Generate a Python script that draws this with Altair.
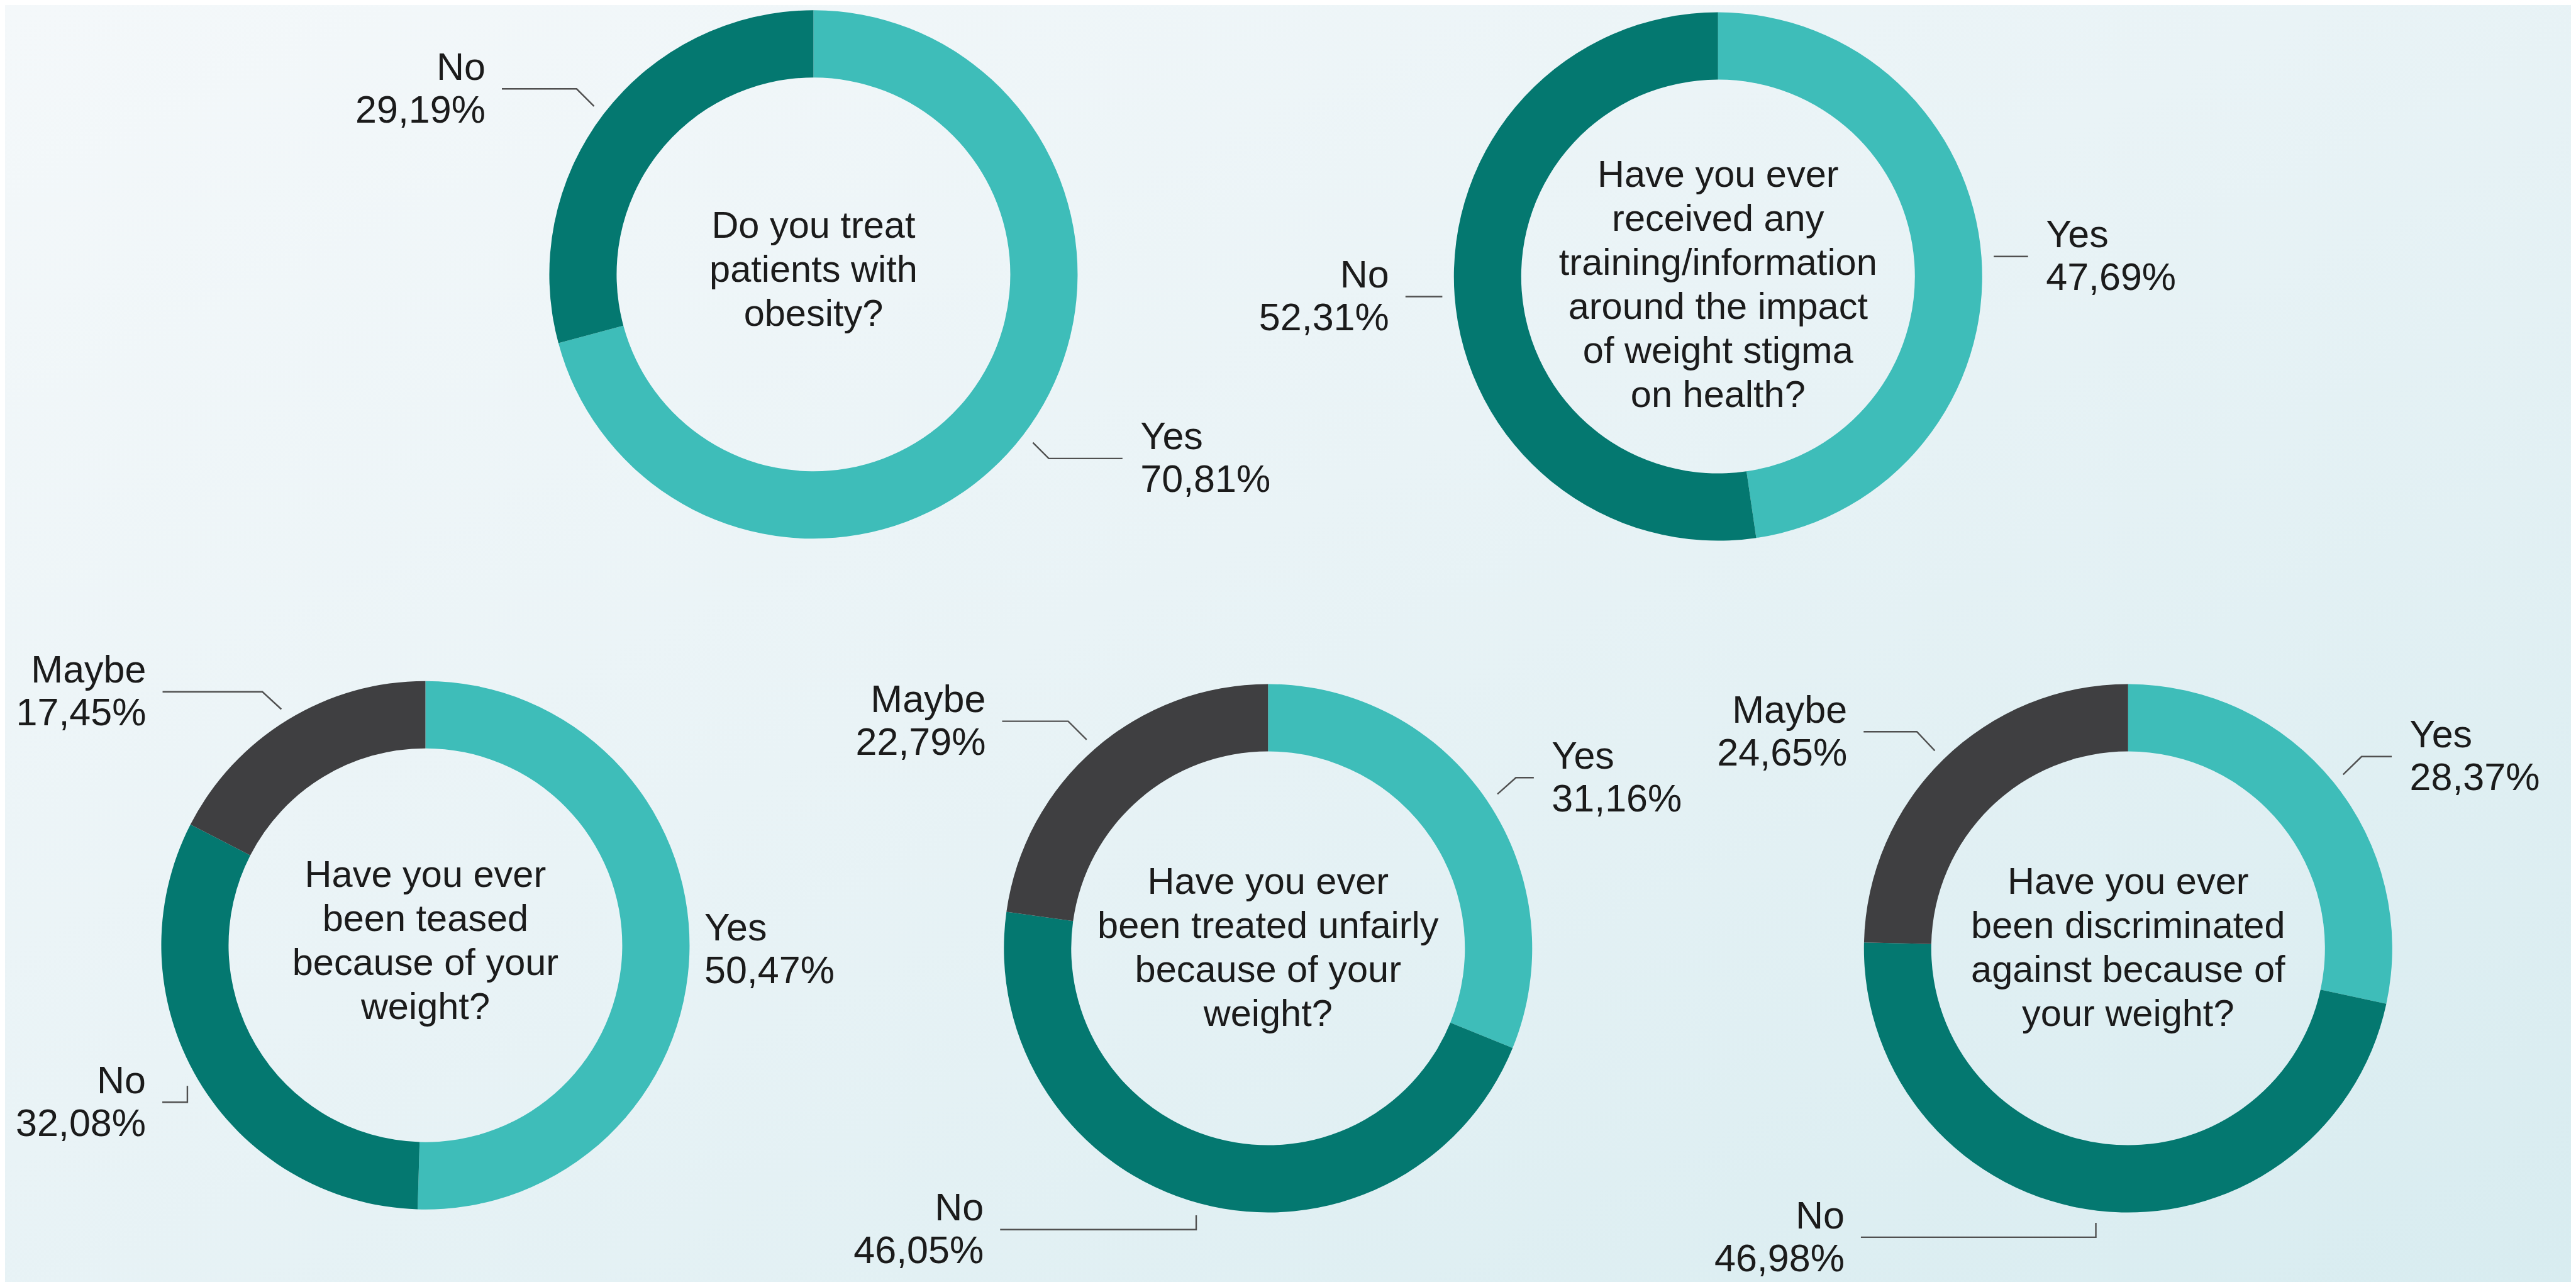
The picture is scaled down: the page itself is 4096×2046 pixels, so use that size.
import math
import pandas as pd
import altair as alt

# ---------------- data ----------------
questions = [
    "Do you treat\npatients with\nobesity?",
    "Have you ever\nreceived any\ntraining/information\naround the impact\nof weight stigma\non health?",
    "Have you ever\nbeen teased\nbecause of your\nweight?",
    "Have you ever\nbeen treated unfairly\nbecause of your\nweight?",
    "Have you ever\nbeen discriminated\nagainst because of\nyour weight?",
]
categories = ["Yes", "No", "Maybe"]
yes_pct = [70.81, 47.69, 50.47, 31.16, 28.37]
no_pct = [29.19, 52.31, 32.08, 46.05, 46.98]
maybe_pct = [0.0, 0.0, 17.45, 22.79, 24.65]

# ---------------- layout (reference pixel units) ----------------
S = 0.814
W, H = 4080, 2030
centers_x = [1589, 3356, 831, 2477, 4157]
centers_y = [536, 540, 1846, 1852, 1852]
question_dy = [-8, 18, -7, 0, 0]
R_LEAD = 540
LABEL_FS, LABEL_LH = 61, 68
Q_FS, Q_LH = 59.5, 70
# leader: (elbow dx, elbow dy, horizontal length); None = text only
leaders = {
    (0, "No"): (-34, -34, 146),
    (0, "Yes"): (31, 31, 144),
    (1, "No"): (0, 0, 72),
    (1, "Yes"): (0, 0, 67),
    (2, "Maybe"): (-37, -34, 195),
    (2, "No"): (0, 32, 49),
    (2, "Yes"): None,
    (3, "Maybe"): (-36, -36, 129),
    (3, "Yes"): (36, -32, 35),
    (3, "No"): (0, 28, 383),
    (4, "Maybe"): (-35, -37, 104),
    (4, "No"): (0, 28, 459),
    (4, "Yes"): (36, -35, 59),
}
colors = ["#3ebdb9", "#047870", "#3f3f41"]
FONT = "Liberation Sans, Helvetica, Arial, sans-serif"

# ---------------- derived tables ----------------
slice_rows, lead_rows, label_rows, q_rows = [], [], [], []
for i, q in enumerate(questions):
    vals = {"Yes": yes_pct[i], "No": no_pct[i], "Maybe": maybe_pct[i]}
    cx, cy = centers_x[i], centers_y[i]
    n_lines = q.count("\n") + 1
    q_rows.append({"cx": cx, "cy": cy + question_dy[i] - (n_lines - 1) * Q_LH / 2 / S, "q": q})
    acc = 0.0
    for c in categories:
        v = vals[c]
        if v <= 0:
            continue
        t0, t1 = acc, acc + v
        acc = t1
        slice_rows.append({"q": i, "cat": c, "cx": cx, "cy": cy, "t0": t0, "t1": t1})
        mid = (t0 + t1) / 2 / 100 * 2 * math.pi
        sx = cx + R_LEAD * math.sin(mid)
        sy = cy - R_LEAD * math.cos(mid)
        side = "left" if math.sin(mid) < 0 else "right"
        txt = c + "\n" + f"{v:.2f}".replace(".", ",") + "%"
        lay = leaders.get((i, c))
        lid = f"{i}-{c}"
        if lay is None:
            tx = sx + (5 if side == "right" else -5)
            ty = sy
        else:
            ex, ey = sx + lay[0], sy + lay[1]
            hx = ex + (-lay[2] if side == "left" else lay[2])
            pts = [(sx, sy), (ex, ey), (hx, ey)]
            for k, (px, py) in enumerate(pts):
                lead_rows.append({"lid": lid, "seq": k, "x": px, "y": py})
            tx = hx - 32 if side == "left" else hx + 35
            ty = ey
        label_rows.append({"x": tx, "y": ty + 2 - LABEL_LH / 2 / S, "txt": txt, "side": side})

slices = pd.DataFrame(slice_rows)
leads = pd.DataFrame(lead_rows)
labels = pd.DataFrame(label_rows)
qs = pd.DataFrame(q_rows)

xs = alt.Scale(domain=[8 / S, (W + 8) / S], range=[0, W], nice=False, zero=False)
ys = alt.Scale(domain=[8 / S, (H + 8) / S], range=[0, H], nice=False, zero=False)

bg = alt.Chart(pd.DataFrame({"a": [0]})).mark_rect(
    color=alt.LinearGradient(
        gradient="linear",
        stops=[
            alt.GradientStop(color="#f4f8fa", offset=0),
            alt.GradientStop(color="#e9f3f6", offset=0.45),
            alt.GradientStop(color="#d8ecf0", offset=1),
        ],
        x1=0, y1=0, x2=1, y2=1,
    )
).encode(x=alt.value(0), x2=alt.value(W), y=alt.value(0), y2=alt.value(H))

arcs = alt.Chart(slices).mark_arc(radius=420, radius2=313).encode(
    x=alt.X("cx:Q", scale=xs, axis=None),
    y=alt.Y("cy:Q", scale=ys, axis=None),
    theta=alt.Theta("t0:Q", scale=alt.Scale(domain=[0, 100], range=[0, 2 * math.pi]), stack=None),
    theta2="t1:Q",
    color=alt.Color("cat:N", scale=alt.Scale(domain=categories, range=colors), legend=None),
)

lines = alt.Chart(leads).mark_line(color="#505050", strokeWidth=2.4).encode(
    x=alt.X("x:Q", scale=xs, axis=None),
    y=alt.Y("y:Q", scale=ys, axis=None),
    detail="lid:N",
    order="seq:Q",
)

txt_props = dict(font=FONT, fontSize=LABEL_FS, lineHeight=LABEL_LH, lineBreak="\n",
                 baseline="middle", color="#1b1b1b")

left_labels = alt.Chart(labels).transform_filter(alt.datum.side == "left").mark_text(
    align="right", **txt_props
).encode(x=alt.X("x:Q", scale=xs, axis=None), y=alt.Y("y:Q", scale=ys, axis=None), text="txt:N")

right_labels = alt.Chart(labels).transform_filter(alt.datum.side == "right").mark_text(
    align="left", **txt_props
).encode(x=alt.X("x:Q", scale=xs, axis=None), y=alt.Y("y:Q", scale=ys, axis=None), text="txt:N")

centre = alt.Chart(qs).mark_text(
    align="center", font=FONT, fontSize=Q_FS, lineHeight=Q_LH, lineBreak="\n",
    baseline="middle", color="#1b1b1b"
).encode(x=alt.X("cx:Q", scale=xs, axis=None), y=alt.Y("cy:Q", scale=ys, axis=None), text="q:N")

chart = alt.layer(bg, arcs, lines, left_labels, right_labels, centre).properties(
    width=W, height=H, padding=0,
    autosize=alt.AutoSizeParams(type="none"),
    background="#eef5f8",
).configure_view(strokeWidth=0)

chart.save("out.html", embed_options={"renderer": "svg", "actions": False})
